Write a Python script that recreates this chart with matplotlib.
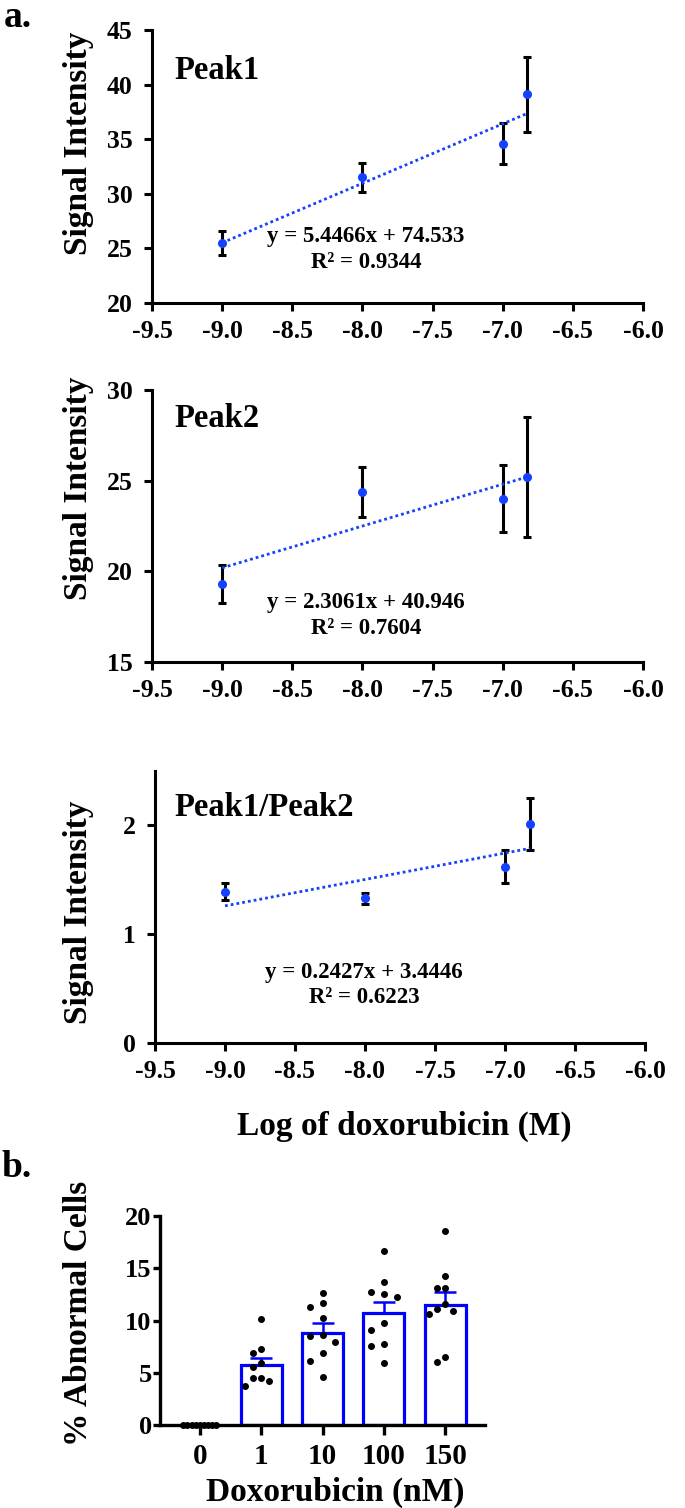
import numpy as np
import matplotlib
matplotlib.use('Agg')
from matplotlib import pyplot as plt

plt.rcParams['font.family'] = ['Liberation Serif', 'DejaVu Serif']
plt.rcParams['font.weight'] = 'bold'
plt.rcParams['axes.labelweight'] = 'bold'
plt.rcParams['axes.unicode_minus'] = False

# ---- Painel a: sinal vs log da doxorrubicina ----
log_dox = [-9.0, -8.0, -7.0, -6.824]
xticks_a = [-9.5, -9.0, -8.5, -8.0, -7.5, -7.0, -6.5, -6.0]
xtick_labels_a = ['-9.5', '-9.0', '-8.5', '-8.0', '-7.5', '-7.0', '-6.5', '-6.0']

peak1_mean = [25.5, 31.5, 34.6, 39.1]
peak1_err = [1.1, 1.3, 1.9, 3.4]
peak1_slope, peak1_inter = 5.4466, 74.533
peak1_eq = ['y = 5.4466x + 74.533', 'R\u00b2 = 0.9344']

peak2_mean = [19.3, 24.4, 24.0, 25.2]
peak2_err = [1.05, 1.38, 1.85, 3.3]
peak2_slope, peak2_inter = 2.3061, 40.946
peak2_eq = ['y = 2.3061x + 40.946', 'R\u00b2 = 0.7604']

ratio_mean = [1.39, 1.33, 1.62, 2.01]
ratio_err = [0.08, 0.05, 0.15, 0.24]
ratio_slope, ratio_inter = 0.2427, 3.4446
ratio_eq = ['y = 0.2427x + 3.4446', 'R\u00b2 = 0.6223']

# ---- Painel b: % de celulas anormais ----
dox_nm = ['0', '1', '10', '100', '150']
bar_mean = [0.0, 5.75, 8.85, 10.7, 11.45]
bar_sem = [0.0, 0.68, 0.9, 1.1, 1.3]
pontos = [
    [0, 0, 0, 0, 0, 0, 0, 0, 0],
    [10.17, 7.27, 6.92, 5.9, 5.58, 4.46, 4.46, 4.18, 3.7],
    [12.66, 11.67, 11.29, 10.27, 8.61, 8.55, 7.94, 6.92, 6.15, 4.59],
    [16.68, 13.65, 12.76, 12.5, 12.25, 9.79, 9.06, 7.72, 7.53, 5.9],
    [18.53, 14.29, 13.08, 13.08, 11.55, 11.1, 10.88, 10.65, 6.54, 6.0],
]

AZUL = '#1440ff'
W, H = 685, 1508


def eixo(left, top, right, bottom):
    # converte pixels da imagem em fracao da figura
    return fig.add_axes([left / W, 1 - bottom / H, (right - left) / W, (bottom - top) / H])


def estilo(ax, lw=2.2, tam=18.5):
    for s in ['top', 'right']:
        ax.spines[s].set_visible(False)
    for s in ['left', 'bottom']:
        ax.spines[s].set_linewidth(lw)
    ax.tick_params(direction='out', length=6, width=lw, labelsize=tam, pad=6)
    ax.tick_params(axis='y', pad=8)


def painel_a(ax, media, erro, slope, inter, eq, titulo, ylim, yticks,
             tit_pos, eq_pos, ylab_pos):
    ax.errorbar(log_dox, media, yerr=erro, fmt='none', ecolor='black',
                elinewidth=2.2, capsize=3, capthick=2.2, zorder=2)
    xs = np.array([log_dox[0], log_dox[-1]])
    ax.plot(xs, slope * xs + inter, color=AZUL, lw=2.0,
            linestyle=(0, (1, 1.1)), zorder=3)
    ax.plot(log_dox, media, 'o', color=AZUL, ms=5.5, zorder=4)
    ax.set_xlim(-9.5, -6.0)
    ax.set_ylim(*ylim)
    ax.set_xticks(xticks_a, xtick_labels_a)
    ax.set_yticks(yticks)
    estilo(ax)
    ax.set_ylabel('Signal Intensity', fontsize=24)
    ax.yaxis.set_label_coords(*ylab_pos)
    ax.text(tit_pos[0], tit_pos[1], titulo, transform=ax.transAxes,
            fontsize=23.5, ha='left', va='center')
    ax.text(eq_pos[0], eq_pos[1], eq[0], transform=ax.transAxes,
            fontsize=16.5, ha='center', va='center')
    ax.text(eq_pos[0], eq_pos[2], eq[1], transform=ax.transAxes,
            fontsize=16.5, ha='center', va='center')


def enxame(valores, px_por_unid, limiar=9.5, passo=0.21, largura=0.27):
    # distribui os pontos em colunas para nao se sobreporem
    ordem = np.argsort(valores)[::-1]
    colunas = {}
    col_de = np.zeros(len(valores))
    for i in ordem:
        v = valores[i]
        k = 0
        while True:
            for c in ([0] if k == 0 else [-k, k]):
                ocup = colunas.get(c, [])
                if all(abs(v - u) * px_por_unid >= limiar for u in ocup):
                    colunas.setdefault(c, []).append(v)
                    col_de[i] = c
                    break
            else:
                k += 1
                continue
            break
    m = np.abs(col_de).max()
    if m * passo > largura:
        passo = largura / m
    return col_de * passo


fig = plt.figure(figsize=(6.85, 15.08), dpi=100)

ax1 = eixo(152, 30, 643, 303)
painel_a(ax1, peak1_mean, peak1_err, peak1_slope, peak1_inter, peak1_eq, 'Peak1',
         (20, 45), [20, 25, 30, 35, 40, 45], (0.045, 0.853), (0.436, 0.245, 0.15),
         (-0.118, 0.586))

ax2 = eixo(152, 390, 643, 662)
painel_a(ax2, peak2_mean, peak2_err, peak2_slope, peak2_inter, peak2_eq, 'Peak2',
         (15, 30), [15, 20, 25, 30], (0.045, 0.897), (0.436, 0.22, 0.125),
         (-0.118, 0.64))

ax3 = eixo(155, 771, 645, 1043)
painel_a(ax3, ratio_mean, ratio_err, ratio_slope, ratio_inter, ratio_eq, 'Peak1/Peak2',
         (0, 2.5), [0, 1, 2], (0.039, 0.864), (0.427, 0.261, 0.169),
         (-0.124, 0.48))
ax3.set_xlabel('Log of doxorubicin (M)', fontsize=24)
ax3.xaxis.set_label_coords(0.508, -0.25)

fig.text(4 / W, 1 - 27 / H, 'a.', fontsize=27, va='baseline', ha='left')
fig.text(2 / W, 1 - 1177 / H, 'b.', fontsize=27, va='baseline', ha='left')

# Painel b
axb = eixo(160, 1216, 485, 1425)
pos = np.arange(len(dox_nm))
axb.bar(pos[1:], bar_mean[1:], width=0.67, facecolor='white', edgecolor='#0000ff',
        linewidth=2.3, zorder=2)
axb.errorbar(pos[1:], bar_mean[1:], yerr=[np.zeros(len(pos) - 1), bar_sem[1:]],
             fmt='none', ecolor='#0000ff', elinewidth=1.8, capsize=8, capthick=1.8,
             zorder=3)
px_unid = 209 / 20
for i, vals in enumerate(pontos):
    dx = enxame(vals, px_unid)
    axb.scatter(pos[i] + dx, vals, s=16, color='black', zorder=4, clip_on=False)
axb.set_xlim(-0.65, 4.65)
axb.set_ylim(0, 20)
axb.set_yticks([0, 5, 10, 15, 20])
axb.set_xticks(pos, dox_nm)
estilo(axb, lw=2.4, tam=19)
axb.tick_params(axis='y', pad=1, length=5)
axb.tick_params(axis='x', labelsize=21, length=7, pad=6)
axb.set_ylabel('% Abnormal Cells', fontsize=24)
axb.yaxis.set_label_coords(-0.203, 0.536)
axb.set_xlabel('Doxorubicin (nM)', fontsize=24)
axb.xaxis.set_label_coords(0.54, -0.25)

fig.savefig('out.png', dpi=100)
